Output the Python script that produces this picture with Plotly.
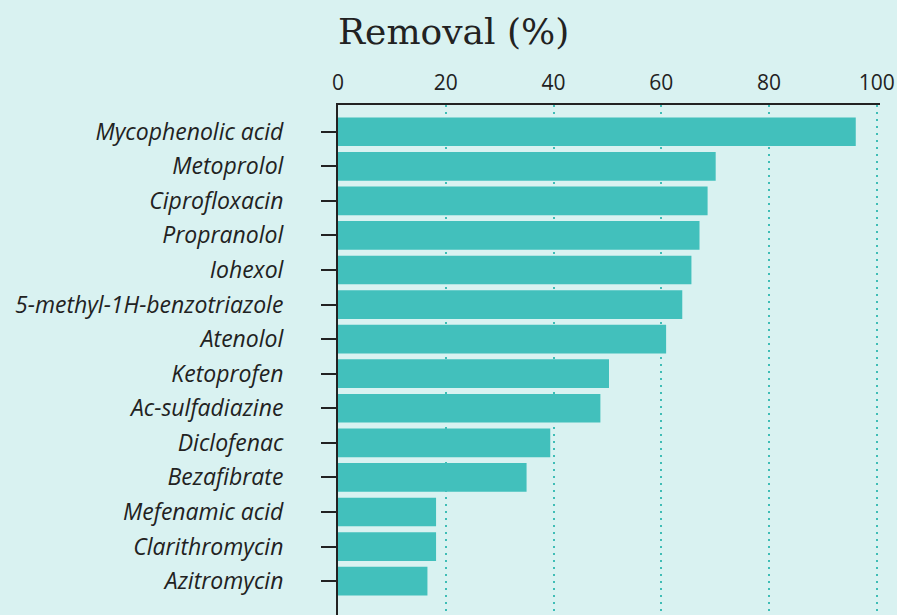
import plotly.graph_objects as go

compounds = ["Mycophenolic acid", "Metoprolol", "Ciprofloxacin", "Propranolol", "Iohexol",
             "5-methyl-1H-benzotriazole", "Atenolol", "Ketoprofen", "Ac-sulfadiazine",
             "Diclofenac", "Bezafibrate", "Mefenamic acid", "Clarithromycin", "Azitromycin"]
removal = [96.1, 70.1, 68.6, 67.1, 65.6, 63.9, 60.9, 50.3, 48.7, 39.4, 35.0, 18.2, 18.2, 16.6]
x_ticks = [0, 20, 40, 60, 80, 100]

BG = "#d9f2f1"
BAR = "#42c0bc"
INK = "#222222"

fig = go.Figure(go.Bar(
    x=removal, y=compounds, orientation="h",
    marker=dict(color=BAR, line=dict(width=0)),
    width=0.83,
    hoverinfo="x+y",
))

fig.update_layout(
    width=897, height=615,
    paper_bgcolor=BG, plot_bgcolor=BG,
    margin=dict(l=338, r=17, t=105, b=0, autoexpand=False),
    showlegend=False,
    annotations=[dict(
        text="Removal (%)", xref="paper", yref="paper", x=-0.004, y=1.145,
        xanchor="left", yanchor="middle", showarrow=False,
        font=dict(family="DejaVu Serif", size=36, color=INK),
    )],
)

fig.update_xaxes(
    side="top", range=[0, 100.6], tickvals=x_ticks, ticktext=[str(v) for v in x_ticks],
    showgrid=True, gridcolor="#3fbdb6", griddash="2px,5px", gridwidth=2,
    zeroline=False, showline=True, linecolor=INK, linewidth=2,
    ticks="", tickfont=dict(family="Open Sans", size=21, color=INK),
    ticklabelstandoff=5,
)

fig.update_yaxes(
    categoryorder="array", categoryarray=compounds,
    range=[13.98, -0.773],
    showgrid=False, zeroline=False, showline=True, linecolor=INK, linewidth=2,
    ticks="outside", ticklen=15, tickwidth=2, tickcolor=INK,
    tickfont=dict(family="Open Sans", size=23, color=INK, style="italic"),
    ticklabelstandoff=33,
)

fig.write_html(
    "out.html",
    config={"displayModeBar": False},
    post_script="document.body.style.margin='0';document.body.style.overflow='hidden';",
)
